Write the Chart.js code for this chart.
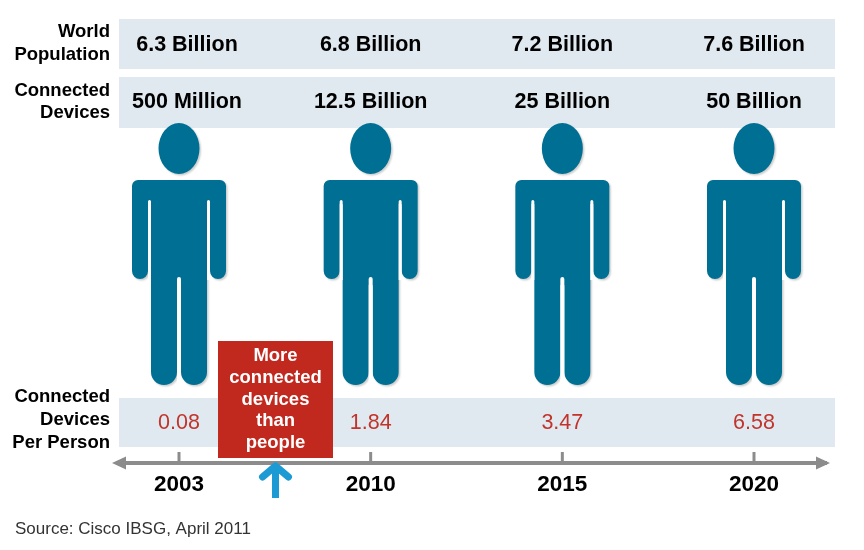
<!DOCTYPE html>
<html>
<head>
<meta charset="utf-8">
<script src="https://cdn.jsdelivr.net/npm/chart.js@4/dist/chart.umd.min.js"></script>
<style>
  html, body { margin: 0; padding: 0; background: #ffffff; }
  #wrap { width: 864px; height: 550px; }
</style>
</head>
<body>
<div id="wrap"><canvas id="c" width="864" height="550"></canvas></div>
<script>
// ---- data ----
const years = ['2003', '2010', '2015', '2020'];
const worldPopulation = ['6.3 Billion', '6.8 Billion', '7.2 Billion', '7.6 Billion'];
const connectedDevices = ['500 Million', '12.5 Billion', '25 Billion', '50 Billion'];
const devicesPerPerson = [0.08, 1.84, 3.47, 6.58];
const rowLabels = [['World', 'Population'], ['Connected', 'Devices'], ['Connected', 'Devices', 'Per Person']];
const calloutLines = ['More', 'connected', 'devices', 'than', 'people'];
const sourceText = 'Source: Cisco IBSG, April 2011';

// ---- style ----
const FONT = '"Liberation Sans", Arial, Helvetica, sans-serif';
const TEAL = '#006f94';
const BAND = '#dfe9ef';
const RED_BOX = '#c1281e';
const RED_TEXT = '#c2332b';
const GRAY = '#8c8c8c';
const BLUE = '#1c9ad4';

function drawPerson(ctx, cx) {
  ctx.save();
  ctx.fillStyle = TEAL;
  ctx.shadowColor = 'rgba(0,0,0,0.2)';
  ctx.shadowBlur = 2;
  ctx.shadowOffsetX = 1.5;
  ctx.shadowOffsetY = 1.5;
  ctx.beginPath();
  // head
  ctx.ellipse(cx, 148.5, 20.5, 25.5, 0, 0, Math.PI * 2);
  ctx.closePath();
  // shoulders
  ctx.roundRect(cx - 47, 180, 94, 24, [6, 6, 0, 0]);
  // arms
  ctx.roundRect(cx - 47, 195, 16, 84, [0, 0, 8, 8]);
  ctx.roundRect(cx + 31, 195, 16, 84, [0, 0, 8, 8]);
  // torso
  ctx.rect(cx - 28, 195, 56, 90);
  // legs
  ctx.roundRect(cx - 28, 270, 26, 115, [0, 0, 13, 13]);
  ctx.roundRect(cx + 2, 270, 26, 115, [0, 0, 13, 13]);
  ctx.fill('nonzero');
  ctx.restore();
  // gaps between arms and torso, and between legs
  ctx.save();
  ctx.fillStyle = '#ffffff';
  ctx.beginPath();
  ctx.roundRect(cx - 31, 200, 3, 80, [1.5, 1.5, 0, 0]);
  ctx.roundRect(cx + 28, 200, 3, 80, [1.5, 1.5, 0, 0]);
  ctx.roundRect(cx - 2, 277, 4, 108, [2, 2, 0, 0]);
  ctx.fill();
  ctx.restore();
}

const infographic = {
  id: 'infographic',
  beforeDraw(chart) {
    const ctx = chart.ctx;
    const xs = chart.scales.x;
    const bandL = xs.getPixelForValue(0) - 60;
    const bandR = xs.getPixelForValue(years.length - 1) + 81;
    ctx.save();
    ctx.fillStyle = '#ffffff';
    ctx.fillRect(0, 0, chart.width, chart.height);
    ctx.fillStyle = BAND;
    ctx.fillRect(bandL, 19, bandR - bandL, 50);
    ctx.fillRect(bandL, 77, bandR - bandL, 51);
    ctx.fillRect(bandL, 398, bandR - bandL, 49);
    ctx.restore();
  },
  afterDraw(chart) {
    const ctx = chart.ctx;
    const xs = chart.scales.x;
    const bandL = xs.getPixelForValue(0) - 60;
    const bandR = xs.getPixelForValue(years.length - 1) + 81;

    // people
    years.forEach((y, i) => drawPerson(ctx, xs.getPixelForValue(i)));

    ctx.save();
    ctx.textBaseline = 'middle';
    // row labels
    ctx.fillStyle = '#000';
    ctx.textAlign = 'right';
    ctx.font = 'bold 18.5px ' + FONT;
    const rowY = [[32, 55], [91, 113], [397, 420, 443]];
    rowLabels.forEach((lines, r) => {
      lines.forEach((t, k) => ctx.fillText(t, bandL - 9, rowY[r][k]));
    });
    // band values
    ctx.textAlign = 'center';
    ctx.font = 'bold 21.5px ' + FONT;
    years.forEach((y, i) => {
      const px = xs.getPixelForValue(i) + (i === 0 ? 8 : 0);
      ctx.fillText(worldPopulation[i], px, 45);
      ctx.fillText(connectedDevices[i], px, 102);
    });
    ctx.font = '21.5px ' + FONT;
    ctx.fillStyle = RED_TEXT;
    years.forEach((y, i) => {
      ctx.fillText(devicesPerPerson[i].toFixed(2), xs.getPixelForValue(i), 423);
    });

    // timeline arrow
    const axY = 463;
    ctx.strokeStyle = GRAY;
    ctx.fillStyle = GRAY;
    ctx.lineWidth = 4;
    ctx.beginPath();
    ctx.moveTo(bandL - 3, axY);
    ctx.lineTo(bandR - 8, axY);
    ctx.stroke();
    ctx.beginPath();
    ctx.moveTo(bandL - 7, axY);
    ctx.lineTo(bandL + 7, axY - 6.5);
    ctx.lineTo(bandL + 7, axY + 6.5);
    ctx.closePath();
    ctx.fill();
    ctx.beginPath();
    ctx.moveTo(bandR - 5, axY);
    ctx.lineTo(bandR - 19, axY - 6.5);
    ctx.lineTo(bandR - 19, axY + 6.5);
    ctx.closePath();
    ctx.fill();
    ctx.lineWidth = 3;
    years.forEach((y, i) => {
      const px = xs.getPixelForValue(i);
      ctx.beginPath();
      ctx.moveTo(px, axY - 11);
      ctx.lineTo(px, axY);
      ctx.stroke();
    });

    // callout box
    const boxL = 218, boxR = 333;
    ctx.fillStyle = RED_BOX;
    ctx.fillRect(boxL, 341, boxR - boxL, 117);
    ctx.fillStyle = '#ffffff';
    ctx.font = 'bold 18.5px ' + FONT;
    calloutLines.forEach((t, k) => ctx.fillText(t, (boxL + boxR) / 2, 356 + k * 21.8));

    // blue up arrow
    const ax = (boxL + boxR) / 2;
    ctx.strokeStyle = BLUE;
    ctx.lineWidth = 7;
    ctx.lineCap = 'butt';
    ctx.beginPath();
    ctx.moveTo(ax, 468);
    ctx.lineTo(ax, 498);
    ctx.stroke();
    ctx.lineCap = 'round';
    ctx.lineJoin = 'round';
    ctx.beginPath();
    ctx.moveTo(ax - 13, 477);
    ctx.lineTo(ax, 466);
    ctx.lineTo(ax + 13, 477);
    ctx.stroke();

    // source
    ctx.textAlign = 'left';
    ctx.fillStyle = '#333333';
    ctx.font = '17px ' + FONT;
    ctx.fillText(sourceText, 15, 529);
    ctx.restore();
  }
};

new Chart(document.getElementById('c'), {
  type: 'line',
  data: {
    labels: years,
    datasets: [{
      label: 'Connected devices per person',
      data: devicesPerPerson,
      showLine: false,
      pointRadius: 0,
      pointHoverRadius: 0
    }]
  },
  options: {
    responsive: false,
    animation: false,
    events: [],
    layout: { padding: { left: 179, right: 110, top: 0, bottom: 0 } },
    plugins: { legend: { display: false }, tooltip: { enabled: false }, title: { display: false } },
    scales: {
      x: {
        type: 'category',
        offset: false,
        grid: { display: false, drawTicks: false },
        border: { display: false },
        ticks: {
          color: '#000',
          font: { family: FONT, size: 22.5, weight: 'bold' },
          padding: 8,
          autoSkip: false,
          maxRotation: 0
        },
        afterFit(s) { s.height = 87; }
      },
      y: { display: false, min: 0, max: 8 }
    }
  },
  plugins: [infographic]
});
</script>
</body>
</html>
